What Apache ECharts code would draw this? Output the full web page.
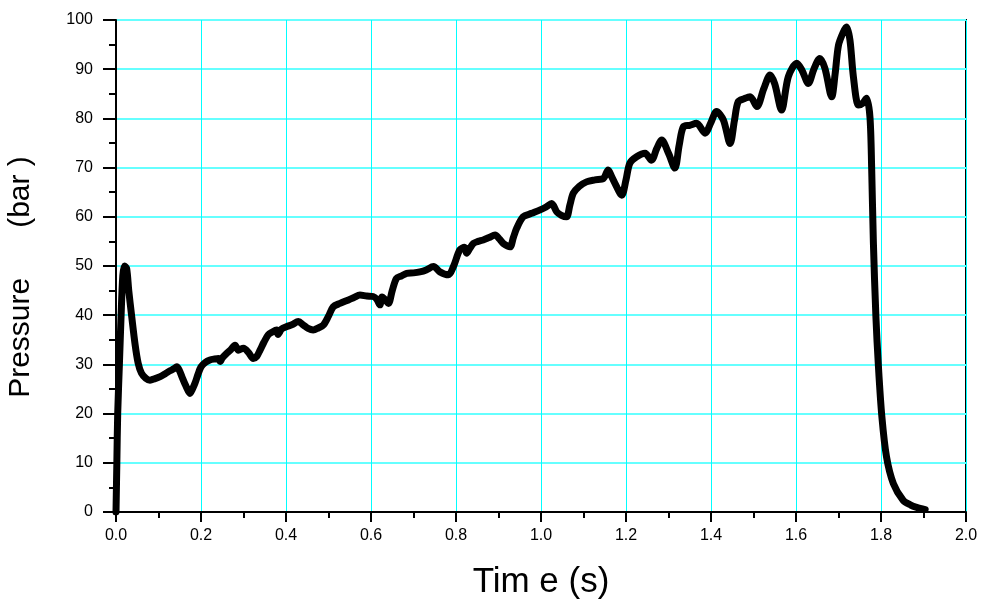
<!DOCTYPE html>
<html><head><meta charset="utf-8">
<script src="https://cdn.jsdelivr.net/npm/echarts@6/dist/echarts.min.js"></script>
<style>html,body{margin:0;padding:0;background:#fff}#c{width:983px;height:604px}</style>
</head><body><div id="c"></div>
<script>
var timeS = [0,0.002,0.004,0.008,0.012,0.016,0.02,0.025,0.03,0.037,0.045,0.052,0.06,0.07,0.08,0.092,0.104,0.116,0.127,0.136,0.143,0.149,0.155,0.165,0.174,0.18,0.186,0.193,0.2,0.21,0.221,0.232,0.241,0.245,0.25,0.26,0.27,0.28,0.288,0.3,0.312,0.323,0.331,0.339,0.348,0.358,0.368,0.378,0.381,0.39,0.402,0.415,0.429,0.441,0.452,0.464,0.476,0.488,0.5,0.511,0.527,0.547,0.56,0.574,0.59,0.605,0.614,0.621,0.626,0.633,0.641,0.65,0.66,0.672,0.684,0.7,0.715,0.73,0.747,0.762,0.782,0.794,0.809,0.82,0.825,0.832,0.841,0.852,0.864,0.878,0.892,0.902,0.911,0.927,0.935,0.943,0.958,0.978,0.998,1.012,1.025,1.037,1.048,1.06,1.068,1.076,1.09,1.107,1.127,1.147,1.158,1.166,1.174,1.19,1.2,1.209,1.225,1.245,1.26,1.272,1.284,1.3,1.315,1.325,1.335,1.35,1.366,1.386,1.4,1.413,1.429,1.445,1.455,1.464,1.478,1.492,1.508,1.524,1.539,1.55,1.566,1.582,1.602,1.614,1.629,1.642,1.656,1.668,1.684,1.692,1.70,1.711,1.719,1.727,1.735,1.747,1.756,1.766,1.774,1.778,1.782,1.788,1.794,1.802,1.813,1.829,1.852,1.87,1.884,1.904];
var pressureBar = [0,10,20,30,40,48,50,49.5,45,39.7,34,30.3,28.2,27.2,26.8,27.1,27.5,28.1,28.7,29.1,29.5,28.8,27.5,25.5,24.1,25,26.2,28,29.5,30.4,30.9,31.1,31.2,30.6,31.3,32.2,33,33.9,32.9,33.3,32.4,31.2,31.6,32.9,34.5,36,36.6,37,36.1,37.2,37.7,38.1,38.7,38,37.3,37,37.4,38,39.8,41.7,42.4,43.1,43.6,44.1,43.9,43.8,43.2,42.1,43.7,43.2,42.4,45,47.5,48,48.5,48.6,48.8,49.2,49.9,48.8,48.2,49.9,53.3,53.8,52.6,53.5,54.6,55,55.3,55.8,56.3,55.5,54.6,53.9,55.8,57.7,60,60.7,61.4,62,62.7,61,60.3,60,62.4,64.8,66.2,67.1,67.5,67.8,69.5,68.2,66.8,64.4,67.5,70.9,72.2,72.9,71.5,73.8,75.6,72.9,69.9,74.5,78.3,78.6,79,77,79.2,81.4,79.7,74.9,79.5,83.4,84,84.4,82.4,86,88.8,87,81.7,88.5,91.2,89.8,87.1,90,92.2,90.2,84.4,89,94.9,97.5,98.6,95.9,88.5,82.7,83,84.1,80.3,70,55,39.7,29.5,19.4,11.2,5.8,2.4,1.4,0.95,0.5];
var xTicks = [0,0.2,0.4,0.6,0.8,1.0,1.2,1.4,1.6,1.8,2.0];
var yTicks = [0,10,20,30,40,50,60,70,80,90,100];

var data = timeS.map(function(t,i){return [t, pressureBar[i]];});
var chart = echarts.init(document.getElementById('c'), null, {renderer:'canvas'});
var tickFont = {color:'#000', fontSize:16, fontFamily:'Liberation Sans, Arial, sans-serif'};
chart.setOption({
  animation:false,
  backgroundColor:'#fff',
  grid:{left:116, right:17, top:20, bottom:92, containLabel:false, outerBoundsMode:'none', show:true, borderColor:'#000', borderWidth:2, backgroundColor:'transparent'},
  xAxis:{
    type:'value', min:xTicks[0], max:xTicks[xTicks.length-1], interval:0.2,
    name:'Tim e (s)', nameLocation:'middle', nameGap:53,
    nameTextStyle:{color:'#000', fontSize:35, fontFamily:'Liberation Sans, Arial, sans-serif'},
    axisLine:{show:true, onZero:false, lineStyle:{color:'#000', width:2}},
    axisTick:{show:true, inside:false, length:10, lineStyle:{color:'#000', width:2}},
    minorTick:{show:true, splitNumber:2, length:6, lineStyle:{color:'#000', width:2}},
    axisLabel:Object.assign({margin:16, formatter:function(v){return v.toFixed(1);}}, tickFont),
    splitLine:{show:true, lineStyle:{color:'#00FFFF', width:1}}
  },
  yAxis:{
    type:'value', min:yTicks[0], max:yTicks[yTicks.length-1], interval:10,
    name:'Pressure      (bar )', nameLocation:'middle', nameGap:80,
    nameTextStyle:{color:'#000', fontSize:30, fontFamily:'Liberation Sans, Arial, sans-serif', padding:[0,22,0,0]},
    axisLine:{show:true, lineStyle:{color:'#000', width:2}},
    axisTick:{show:true, inside:false, length:13, lineStyle:{color:'#000', width:2}},
    minorTick:{show:true, splitNumber:2, length:7, lineStyle:{color:'#000', width:2}},
    axisLabel:Object.assign({margin:23}, tickFont),
    splitLine:{show:true, lineStyle:{color:'#66FFFF', width:2}}
  },
  series:[{
    type:'line', data:data, showSymbol:false, smooth:0.3,
    lineStyle:{color:'#000', width:7, cap:'round', join:'round'}
  }]
});
</script></body></html>
